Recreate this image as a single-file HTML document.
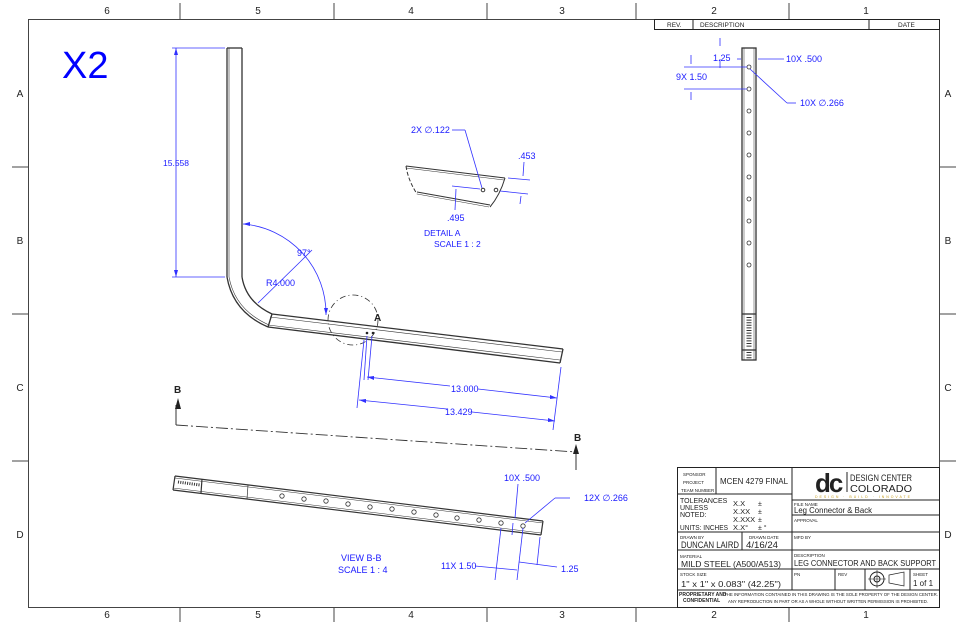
<!DOCTYPE html>
<html><head><meta charset="utf-8"><style>
html,body{margin:0;padding:0;background:#fff;}
svg{display:block;font-family:"Liberation Sans",sans-serif;}
.b{fill:#1a1aff;font-size:9px;}
.k{fill:#222;}
</style></head><body>
<svg width="962" height="625" viewBox="0 0 962 625">
<g stroke="#444" fill="none" stroke-width="1">
<rect x="28.5" y="19.5" width="911" height="588"/>
<line x1="180" y1="3" x2="180" y2="19"/><line x1="334" y1="3" x2="334" y2="19"/><line x1="487" y1="3" x2="487" y2="19"/><line x1="636" y1="3" x2="636" y2="19"/><line x1="789" y1="3" x2="789" y2="19"/>
<line x1="180" y1="607" x2="180" y2="622"/><line x1="334" y1="607" x2="334" y2="622"/><line x1="487" y1="607" x2="487" y2="622"/><line x1="636" y1="607" x2="636" y2="622"/><line x1="789" y1="607" x2="789" y2="622"/>
<line x1="12" y1="167" x2="28" y2="167"/><line x1="12" y1="314" x2="28" y2="314"/><line x1="12" y1="461" x2="28" y2="461"/>
<line x1="940" y1="167" x2="956" y2="167"/><line x1="940" y1="314" x2="956" y2="314"/><line x1="940" y1="461" x2="956" y2="461"/>
</g>
<g class="k" font-size="10" text-anchor="middle">
<text x="107" y="14">6</text><text x="258" y="14">5</text><text x="411" y="14">4</text><text x="562" y="14">3</text><text x="714" y="14">2</text><text x="866" y="14">1</text>
<text x="107" y="618">6</text><text x="258" y="618">5</text><text x="411" y="618">4</text><text x="562" y="618">3</text><text x="714" y="618">2</text><text x="866" y="618">1</text>
<text x="20" y="97">A</text><text x="20" y="244">B</text><text x="20" y="391">C</text><text x="20" y="538">D</text>
<text x="948" y="97">A</text><text x="948" y="244">B</text><text x="948" y="391">C</text><text x="948" y="538">D</text>
</g>
<text x="62" y="78" font-size="38" fill="#0000ff">X2</text>

<!-- rev block -->
<g stroke="#222" fill="none" stroke-width="1">
<rect x="654.5" y="19.5" width="285" height="10"/><line x1="693" y1="19" x2="693" y2="29"/><line x1="869" y1="19" x2="869" y2="29"/>
</g>
<g class="k" font-size="6.5"><text x="667" y="27">REV.</text><text x="700" y="27">DESCRIPTION</text><text x="898" y="27">DATE</text></g>

<!-- main bent tube -->
<g stroke="#333" fill="none" stroke-width="1.3">
<line x1="227" y1="48" x2="227" y2="277"/><line x1="242" y1="48" x2="242" y2="277"/><line x1="227" y1="48" x2="242" y2="48"/>
<line x1="229" y1="48" x2="229" y2="277" stroke-width="0.6"/>
<path d="M227 277 Q233 312 268 327"/><path d="M242 277 Q246 302 272 314"/>
<path d="M229 277 Q235 310 269 325" stroke-width="0.6"/>
<line x1="268" y1="327" x2="272" y2="314"/>
<line x1="272" y1="314" x2="563" y2="349"/><line x1="268" y1="327" x2="560" y2="363"/><line x1="563" y1="349" x2="560" y2="363"/>
<line x1="270" y1="317" x2="562" y2="352" stroke-width="0.6"/><line x1="268" y1="325" x2="560" y2="360" stroke-width="0.6"/>
<circle cx="353" cy="320" r="25" stroke-dasharray="6,3,1,3" stroke-width="0.8"/>
</g>
<circle cx="367" cy="333" r="1.3" fill="#222"/><circle cx="373" cy="333" r="1.3" fill="#222"/>
<text x="374" y="321" font-size="10" font-weight="bold" class="k">A</text>

<!-- dims main -->
<g stroke="#3030ff" fill="none" stroke-width="0.8">
<line x1="176" y1="48" x2="176" y2="277"/><line x1="172" y1="48" x2="225" y2="48"/><line x1="172" y1="277" x2="225" y2="277"/>
<path d="M243 224 A90 90 0 0 1 326 315"/>
<line x1="258" y1="303" x2="300" y2="262"/><line x1="300" y1="262" x2="312" y2="250"/>
<line x1="367" y1="336" x2="364" y2="380"/><line x1="372" y1="336" x2="368" y2="380" />
<line x1="367" y1="377" x2="450" y2="386"/><line x1="478" y1="389" x2="557" y2="398"/>
<line x1="359" y1="400" x2="447" y2="409"/><line x1="472" y1="412" x2="555" y2="421"/>
<line x1="561" y1="367" x2="553" y2="430"/><line x1="364" y1="340" x2="357" y2="408"/>
</g>
<g fill="#3030ff">
<polygon points="176,48 174,55 178,55"/><polygon points="176,277 174,270 178,270"/>
<polygon points="243,224 250,222 250,226"/><polygon points="326,315 324,308 328,308"/>
<polygon points="367,377 374,376 374,380"/><polygon points="557,398 550,395 550,399"/>
<polygon points="359,400 366,399 366,403"/><polygon points="555,421 548,418 548,422"/>
</g>
<g class="b"><text x="163" y="166" font-size="8.5">15.558</text><text x="297" y="256">97°</text><text x="266" y="286">R4.000</text><text x="451" y="392">13.000</text><text x="445" y="415">13.429</text></g>

<!-- section line B -->
<line x1="176" y1="425" x2="576" y2="452" stroke="#333" stroke-width="0.9" stroke-dasharray="12,3,2,3"/>
<line x1="576" y1="452" x2="576" y2="452" stroke="#333"/>
<line x1="576" y1="475" x2="576" y2="452" stroke="#333" opacity="0"/>
<line x1="176" y1="425" x2="176" y2="405" stroke="#333"/><polygon points="178,398 175,409 181,409" fill="#222"/>
<text x="174" y="393" font-size="10" font-weight="bold" class="k">B</text>
<line x1="576" y1="470" x2="576" y2="452" stroke="#333"/>
<line x1="574" y1="470" x2="576" y2="455" stroke="#333" opacity="0"/>
<polygon points="576,444 573,454 579,454" fill="#222"/>
<line x1="576" y1="452" x2="576" y2="470" stroke="#333" opacity="0"/>
<text x="574" y="441" font-size="10" font-weight="bold" class="k">B</text>

<!-- detail A -->
<g stroke="#333" fill="none" stroke-width="1">
<line x1="406" y1="166" x2="505" y2="178"/><line x1="406" y1="168" x2="504" y2="180" stroke-width="0.5"/>
<line x1="417" y1="192" x2="490" y2="205"/><line x1="417" y1="194" x2="489" y2="207" stroke-width="0.5"/>
<path d="M406 166 Q408 180 417 194" stroke-dasharray="4,2"/><path d="M505 178 Q500 195 490 207"/>
<circle cx="483" cy="190" r="1.8"/><circle cx="496" cy="190" r="1.8"/>
</g>
<g stroke="#3030ff" fill="none" stroke-width="0.8">
<line x1="452" y1="130" x2="465" y2="130"/><line x1="465" y1="130" x2="482" y2="188"/>
<line x1="508" y1="178" x2="530" y2="180"/><line x1="500" y1="191" x2="528" y2="194"/><line x1="524" y1="162" x2="523" y2="176"/><line x1="521" y1="196" x2="520" y2="204"/>
<line x1="452" y1="186" x2="480" y2="189"/><line x1="456" y1="189" x2="455" y2="210"/>
</g>
<g class="b" font-size="8"><text x="411" y="133">2X ∅.122</text><text x="518" y="159">.453</text><text x="447" y="221">.495</text><text x="424" y="236" font-size="8.5">DETAIL A</text><text x="434" y="247" font-size="8.5">SCALE 1 : 2</text></g>

<!-- view B-B -->
<g stroke="#333" fill="none" stroke-width="1.2">
<line x1="175" y1="476" x2="543" y2="521"/><line x1="173" y1="490" x2="541" y2="535"/>
<line x1="175" y1="478" x2="543" y2="523" stroke-width="0.5"/><line x1="173" y1="488" x2="541" y2="533" stroke-width="0.5"/>
<line x1="175" y1="476" x2="173" y2="490"/><line x1="543" y1="521" x2="541" y2="535"/>
<line x1="202" y1="479" x2="201" y2="493"/><line x1="248" y1="485" x2="247" y2="499" stroke-width="0.7"/>
<line x1="178" y1="482" x2="200" y2="485" stroke-dasharray="1,1.3" stroke-width="3"/>
</g>
<g stroke="#333" fill="none" stroke-width="0.8">
<circle cx="282" cy="496" r="2.2"/><circle cx="304" cy="499" r="2.2"/><circle cx="326" cy="501" r="2.2"/><circle cx="348" cy="504" r="2.2"/><circle cx="370" cy="507" r="2.2"/><circle cx="392" cy="509" r="2.2"/><circle cx="414" cy="512" r="2.2"/><circle cx="436" cy="515" r="2.2"/><circle cx="457" cy="518" r="2.2"/><circle cx="479" cy="520" r="2.2"/><circle cx="501" cy="523" r="2.2"/><circle cx="523" cy="526" r="2.2"/>
</g>
<g stroke="#3030ff" fill="none" stroke-width="0.8">
<line x1="518" y1="484" x2="515" y2="518"/><line x1="513" y1="523" x2="512" y2="535"/>
<line x1="570" y1="498" x2="555" y2="498"/><line x1="555" y1="498" x2="525" y2="523"/>
<line x1="501" y1="528" x2="495" y2="580"/><line x1="523" y1="528" x2="517" y2="580"/><line x1="540" y1="537" x2="537" y2="565"/>
<line x1="475" y1="566" x2="517" y2="570"/><line x1="519" y1="562" x2="557" y2="567"/>
</g>
<g class="b" font-size="8.5"><text x="504" y="481">10X .500</text><text x="584" y="501">12X ∅.266</text><text x="441" y="569">11X 1.50</text><text x="561" y="572">1.25</text><text x="341" y="561">VIEW B-B</text><text x="338" y="573">SCALE 1 : 4</text></g>

<!-- right vertical view -->
<g stroke="#333" fill="none" stroke-width="1.3">
<rect x="742" y="48" width="14" height="312"/>
<line x1="744" y1="48" x2="744" y2="360" stroke-width="0.5"/><line x1="754" y1="48" x2="754" y2="360" stroke-width="0.5"/>
<line x1="742" y1="314" x2="756" y2="314"/><line x1="742" y1="350" x2="756" y2="350"/>
<line x1="749" y1="317" x2="749" y2="347" stroke-width="5" stroke-dasharray="1,1.6"/>
<line x1="749" y1="352" x2="749" y2="359" stroke-width="5" stroke-dasharray="1,1.6"/>
</g>
<g stroke="#333" fill="none" stroke-width="0.8">
<circle cx="749" cy="67" r="2"/><circle cx="749" cy="89" r="2"/><circle cx="749" cy="111" r="2"/><circle cx="749" cy="133" r="2"/><circle cx="749" cy="155" r="2"/><circle cx="749" cy="177" r="2"/><circle cx="749" cy="199" r="2"/><circle cx="749" cy="221" r="2"/><circle cx="749" cy="243" r="2"/><circle cx="749" cy="265" r="2"/>
</g>
<g stroke="#3030ff" fill="none" stroke-width="0.8">
<line x1="720" y1="38" x2="720" y2="46"/><line x1="720" y1="59" x2="720" y2="68"/><line x1="737" y1="59" x2="741" y2="59"/><line x1="758" y1="59" x2="784" y2="59"/>
<line x1="684" y1="67" x2="747" y2="67"/><line x1="684" y1="89" x2="747" y2="89"/><line x1="691" y1="55" x2="691" y2="64"/><line x1="691" y1="92" x2="691" y2="100"/>
<line x1="750" y1="69" x2="787" y2="103"/><line x1="787" y1="103" x2="796" y2="103"/>
</g>
<g class="b" font-size="8.5"><text x="713" y="61">1.25</text><text x="786" y="62">10X .500</text><text x="676" y="80">9X 1.50</text><text x="800" y="106">10X ∅.266</text></g>

<!-- title block -->
<g stroke="#222" fill="none" stroke-width="1">
<rect x="677.5" y="467.5" width="262" height="140"/>
<line x1="792" y1="467" x2="792" y2="590"/>
<line x1="677" y1="494" x2="792" y2="494"/><line x1="716" y1="467" x2="716" y2="494"/>
<line x1="677" y1="532" x2="792" y2="532"/><line x1="677" y1="550" x2="792" y2="550"/><line x1="742" y1="532" x2="742" y2="550"/>
<line x1="677" y1="569" x2="940" y2="569"/><line x1="677" y1="590" x2="940" y2="590"/>
<line x1="792" y1="500" x2="940" y2="500"/><line x1="792" y1="515" x2="940" y2="515"/><line x1="792" y1="532" x2="940" y2="532"/><line x1="792" y1="550" x2="940" y2="550"/>
<line x1="835" y1="569" x2="835" y2="590"/><line x1="865" y1="569" x2="865" y2="590"/><line x1="910" y1="569" x2="910" y2="590"/>
<circle cx="877" cy="579" r="7"/><circle cx="877" cy="579" r="3"/><line x1="868" y1="579" x2="886" y2="579" stroke-width="0.6"/><line x1="877" y1="570" x2="877" y2="588" stroke-width="0.6"/>
<path d="M889 575 L904 572 L904 586 L889 583 Z" stroke-width="0.7"/>
</g>
<g class="k">
<text x="683" y="476" font-size="4.5">SPONSOR</text><text x="683" y="484" font-size="4.5">PROJECT</text><text x="681" y="492" font-size="4.5">TEAM NUMBER</text>
<text x="720" y="484" font-size="8" textLength="68" lengthAdjust="spacingAndGlyphs">MCEN 4279 FINAL</text>
<text x="680" y="503" font-size="7">TOLERANCES</text><text x="680" y="510" font-size="7">UNLESS</text><text x="680" y="517" font-size="7">NOTED:</text><text x="680" y="530" font-size="7" textLength="48" lengthAdjust="spacingAndGlyphs">UNITS: INCHES</text>
<text x="733" y="506" font-size="7.5">X.X</text><text x="733" y="514" font-size="7.5">X.XX</text><text x="733" y="522" font-size="7.5">X.XXX</text><text x="733" y="530" font-size="7.5">X.X°</text>
<text x="758" y="506" font-size="7">±</text><text x="758" y="514" font-size="7">±</text><text x="758" y="522" font-size="7">±</text><text x="758" y="530" font-size="7">± °</text>
<text x="680" y="539" font-size="4.5">DRAWN BY</text><text x="749" y="539" font-size="4.5">DRAWN DATE</text>
<text x="681" y="548" font-size="9" textLength="58" lengthAdjust="spacingAndGlyphs">DUNCAN LAIRD</text><text x="746" y="548" font-size="9" textLength="32" lengthAdjust="spacingAndGlyphs">4/16/24</text>
<text x="680" y="558" font-size="4.5">MATERIAL</text><text x="681" y="567" font-size="8" textLength="100" lengthAdjust="spacingAndGlyphs">MILD STEEL (A500/A513)</text>
<text x="680" y="576" font-size="4.5">STOCK SIZE</text><text x="681" y="587" font-size="8" textLength="100" lengthAdjust="spacingAndGlyphs">1" x 1" x 0.083" (42.25")</text>
<text x="679" y="596" font-size="5" font-weight="bold">PROPRIETARY AND</text><text x="683" y="602" font-size="5" font-weight="bold">CONFIDENTIAL</text>
<text x="724" y="596" font-size="4.3" textLength="214" lengthAdjust="spacingAndGlyphs">THE INFORMATION CONTAINED IN THIS DRAWING IS THE SOLE PROPERTY OF THE DESIGN CENTER.</text>
<text x="728" y="603" font-size="4.3" textLength="200" lengthAdjust="spacingAndGlyphs">ANY REPRODUCTION IN PART OR AS A WHOLE WITHOUT WRITTEN PERMISSION IS PROHIBITED.</text>
<text x="815" y="492" font-size="26" font-weight="bold" letter-spacing="-2">dc</text>
<line x1="847" y1="472" x2="847" y2="492" stroke="#222"/>
<text x="850" y="481" font-size="9" textLength="62" lengthAdjust="spacingAndGlyphs">DESIGN CENTER</text><text x="850" y="492" font-size="10" textLength="62" lengthAdjust="spacingAndGlyphs">COLORADO</text>
<text x="815" y="498" font-size="3.5" fill="#c9a020" textLength="95" lengthAdjust="spacing">DESIGN · BUILD · INNOVATE</text>
<text x="794" y="506" font-size="4.5">FILE NAME</text><text x="794" y="513" font-size="8" textLength="78" lengthAdjust="spacingAndGlyphs">Leg Connector &amp; Back</text>
<text x="794" y="522" font-size="4.5">APPROVAL</text><text x="794" y="539" font-size="4.5">MFD BY</text>
<text x="794" y="557" font-size="4.5">DESCRIPTION</text><text x="794" y="566" font-size="8" textLength="142" lengthAdjust="spacingAndGlyphs">LEG CONNECTOR AND BACK SUPPORT</text>
<text x="794" y="576" font-size="4.5">PN</text><text x="838" y="576" font-size="4.5">REV</text><text x="913" y="576" font-size="4.5">SHEET</text><text x="913" y="586" font-size="8">1 of 1</text>
</g>
</svg>
</body></html>
